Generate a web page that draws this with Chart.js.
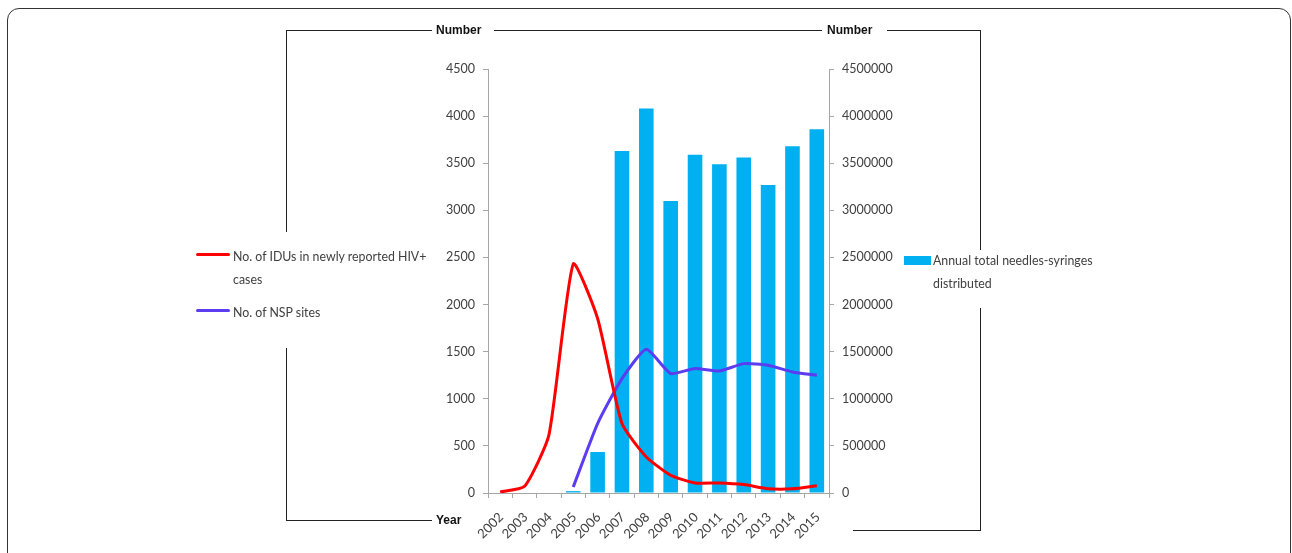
<!DOCTYPE html>
<html>
<head>
<meta charset="utf-8">
<script src="https://cdn.jsdelivr.net/npm/chart.js@4/dist/chart.umd.min.js"></script>
<style>
  html, body { margin: 0; padding: 0; background: #fff; }
  #wrap { position: relative; width: 1292px; height: 553px; overflow: hidden; }
  #frame { position: absolute; left: 7px; top: 8px; width: 1282px; height: 600px;
           border: 1px solid #333; border-radius: 12px; }
  canvas { position: absolute; left: 0; top: 0; }
  .ln { position: absolute; background: #222; }
  .lbl { position: absolute; font: bold 12px "Liberation Sans", Arial, sans-serif; color: #111;
         background: #fff; line-height: 14px; }
  .leg { position: absolute; font: 13px Lato, sans-serif;
         color: #404040; line-height: 23px; }
  .leg .sw { position: absolute; }
  .leg .tx { position: absolute; transform: scaleX(0.95); transform-origin: 0 0; }
</style>
</head>
<body>
<div id="wrap">
  <div id="frame"></div>
  <canvas id="chart" width="1292" height="553"></canvas>

  <!-- left bracket -->
  <div class="ln" style="left:286px;top:30px;width:146px;height:1px"></div>
  <div class="ln" style="left:286px;top:30px;width:1px;height:202px"></div>
  <div class="ln" style="left:286px;top:348px;width:1px;height:172px"></div>
  <div class="ln" style="left:286px;top:520px;width:146px;height:1px"></div>
  <!-- top line between labels and right bracket -->
  <div class="ln" style="left:494px;top:30px;width:328px;height:1px"></div>
  <div class="ln" style="left:887px;top:30px;width:94px;height:1px"></div>
  <div class="ln" style="left:980px;top:30px;width:1px;height:220px"></div>
  <div class="ln" style="left:980px;top:308px;width:1px;height:222px"></div>
  <div class="ln" style="left:853px;top:530px;width:128px;height:1px"></div>

  <div class="lbl" style="left:436px;top:513px">Year</div>
  <div class="lbl" style="left:436px;top:23px">Number</div>
  <div class="lbl" style="left:827px;top:23px">Number</div>

  <div id="legLeft" class="leg" style="left:196px;top:245px;width:240px"></div>
  <div id="legRight" class="leg" style="left:904px;top:249px;width:200px"></div>
</div>
<script>
const years = ["2002", "2003", "2004", "2005", "2006", "2007", "2008", "2009",
               "2010", "2011", "2012", "2013", "2014", "2015"];
const iduCases = [10, 71, 614, 2430, 1852, 737, 383, 188, 106, 106, 89, 46, 45, 78];
const nspSites = [null, null, null, 64, 737, 1214, 1525, 1268, 1322, 1295, 1373, 1356, 1285, 1250];
const needles = [0, 0, 0, 20000, 435000, 3630000, 4080000, 3100000, 3590000, 3490000,
                 3560000, 3270000, 3680000, 3860000];
const leftTicks = [0, 500, 1000, 1500, 2000, 2500, 3000, 3500, 4000, 4500];
const rightTicks = [0, 500000, 1000000, 1500000, 2000000, 2500000, 3000000, 3500000, 4000000, 4500000];

const tickFont = { family: "Lato, sans-serif", size: 12.5 };
const axisGray = "#a6a6a6";

// x labels drawn slanted at 45 degrees at the category positions of the x scale
const slantLabels = {
  id: "slantLabels",
  afterDraw(chart) {
    const xs = chart.scales.x;
    const c = chart.ctx;
    c.save();
    c.font = "13px Lato, sans-serif";
    c.fillStyle = "#404040";
    c.textAlign = "right";
    c.textBaseline = "middle";
    chart.data.labels.forEach((lab, i) => {
      const x = xs.getPixelForTick(i);
      c.save();
      c.translate(x + 1, xs.top + 22);
      c.rotate(-Math.PI / 4);
      c.fillText(lab, 0, 0);
      c.restore();
    });
    c.restore();
  },
};

const ctx = document.getElementById("chart").getContext("2d");
const chart = new Chart(ctx, {
  type: "bar",
  data: {
    labels: years,
    datasets: [
      {
        type: "line",
        label: "No. of IDUs in newly reported HIV+ cases",
        data: iduCases,
        yAxisID: "y",
        borderColor: "#ff0000",
        backgroundColor: "#ff0000",
        borderWidth: 3,
        pointRadius: 0,
        tension: 0.18,
        order: 0,
      },
      {
        type: "line",
        label: "No. of NSP sites",
        data: nspSites,
        yAxisID: "y",
        borderColor: "#5b3cf0",
        backgroundColor: "#5b3cf0",
        borderWidth: 3,
        pointRadius: 0,
        tension: 0.18,
        order: 1,
      },
      {
        label: "Annual total needles-syringes distributed",
        data: needles,
        yAxisID: "y1",
        backgroundColor: "#00b0f0",
        barPercentage: 0.6,
        categoryPercentage: 1,
        order: 2,
      },
    ],
  },
  options: {
    responsive: false,
    animation: false,
    layout: { padding: { left: 438, right: 393, top: 69, bottom: 20 } },
    plugins: { legend: { display: false }, tooltip: { enabled: false } },
    scales: {
      x: {
        grid: { drawOnChartArea: false, offset: true, tickLength: 5, color: axisGray },
        border: { color: axisGray },
        ticks: { display: false, autoSkip: false },
        afterFit: (s) => { s.height = 40; },
      },
      y: {
        position: "left",
        min: 0,
        max: 4500,
        afterBuildTicks: (s) => { s.ticks = leftTicks.map((v) => ({ value: v })); },
        grid: { drawOnChartArea: false, tickLength: 5, color: axisGray },
        border: { color: axisGray },
        ticks: { font: tickFont, color: "#404040", padding: 8, callback: (v) => String(v) },
        afterFit: (s) => { s.width = 50; },
      },
      y1: {
        position: "right",
        min: 0,
        max: 4500000,
        afterBuildTicks: (s) => { s.ticks = rightTicks.map((v) => ({ value: v })); },
        grid: { drawOnChartArea: false, tickLength: 5, color: axisGray },
        border: { color: axisGray },
        ticks: { font: tickFont, color: "#404040", padding: 8, callback: (v) => String(v) },
        afterFit: (s) => { s.width = 70; },
      },
    },
  },
  plugins: [slantLabels],
});

// legends built from the datasets
function addItem(box, ds, top, isBar) {
  const sw = document.createElement("div");
  sw.className = "sw";
  if (isBar) {
    sw.style.cssText = `left:0;top:${top + 7}px;width:27px;height:9px;background:${ds.backgroundColor}`;
  } else {
    sw.style.cssText = `left:0;top:${top + 8}px;width:34px;height:3px;border-radius:2px;background:${ds.borderColor}`;
  }
  const t = document.createElement("div");
  t.className = "tx";
  t.style.cssText = `left:${isBar ? 29 : 37}px;top:${top}px;width:${isBar ? 190 : 222}px`;
  t.textContent = ds.label;
  box.appendChild(sw);
  box.appendChild(t);
}
const ds = chart.data.datasets;
addItem(document.getElementById("legLeft"), ds[0], 0, false);
addItem(document.getElementById("legLeft"), ds[1], 56, false);
addItem(document.getElementById("legRight"), ds[2], 0, true);
</script>
</body>
</html>
